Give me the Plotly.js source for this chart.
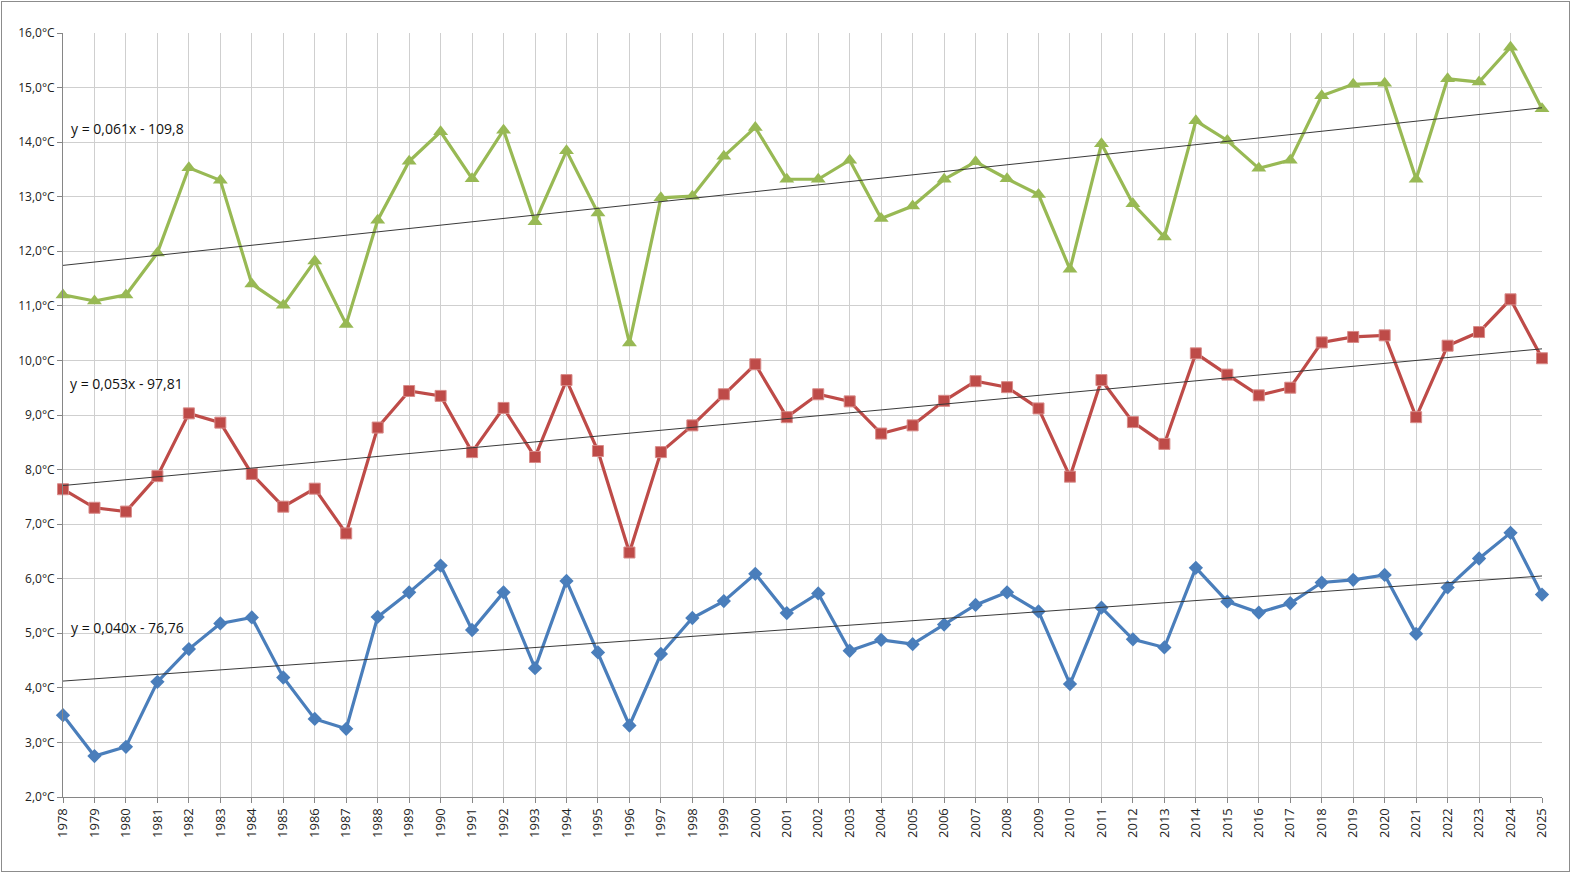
<!DOCTYPE html>
<html>
<head>
<meta charset="utf-8">
<script src="https://cdn.plot.ly/plotly-3.0.1.min.js"></script>
<style>
html,body{margin:0;padding:0;background:#fff;}
#chart{width:1572px;height:873px;}
#frame{position:absolute;left:1px;top:1px;width:1569px;height:871px;box-sizing:border-box;border:1px solid #8c8c8c;pointer-events:none;}
</style>
</head>
<body>
<div id="chart"></div>
<div id="frame"></div>
<script>
const years = [1978,1979,1980,1981,1982,1983,1984,1985,1986,1987,1988,1989,1990,1991,1992,1993,1994,1995,1996,1997,1998,1999,2000,2001,2002,2003,2004,2005,2006,2007,2008,2009,2010,2011,2012,2013,2014,2015,2016,2017,2018,2019,2020,2021,2022,2023,2024,2025];

const greenSeries = [11.20,11.09,11.20,11.97,13.53,13.30,11.40,11.01,11.82,10.66,
  12.57,13.65,14.19,13.33,14.22,12.54,13.84,12.70,10.32,12.98,
  13.01,13.74,14.27,13.32,13.32,13.67,12.60,12.83,13.32,13.64,
  13.33,13.04,11.67,13.97,12.87,12.26,14.39,14.03,13.52,13.67,
  14.85,15.06,15.08,13.32,15.16,15.10,15.74,14.61];

const redSeries = [7.64,7.30,7.23,7.88,9.03,8.86,7.92,7.32,7.65,6.83,
  8.77,9.44,9.35,8.32,9.13,8.23,9.64,8.34,6.48,8.32,
  8.81,9.38,9.93,8.96,9.38,9.25,8.66,8.81,9.26,9.62,
  9.51,9.12,7.87,9.64,8.87,8.47,10.13,9.74,9.36,9.50,
  10.33,10.43,10.46,8.96,10.27,10.52,11.12,10.04];

const blueSeries = [3.50,2.75,2.92,4.11,4.71,5.18,5.29,4.19,3.43,3.25,
  5.30,5.75,6.24,5.06,5.75,4.36,5.96,4.65,3.31,4.62,
  5.28,5.59,6.09,5.37,5.73,4.68,4.88,4.80,5.16,5.52,
  5.75,5.40,4.07,5.47,4.89,4.74,6.20,5.58,5.38,5.55,
  5.93,5.98,6.07,4.99,5.84,6.37,6.84,5.71];

const equations = ["y = 0,061x - 109,8","y = 0,053x - 97,81","y = 0,040x - 76,76"];

const yTicks = [2,3,4,5,6,7,8,9,10,11,12,13,14,15,16];
const yTickText = yTicks.map(v => v.toFixed(1).replace('.', ',') + '°C');

function fit(xs, ys){
  const n = xs.length;
  const mx = xs.reduce((a,b)=>a+b,0)/n, my = ys.reduce((a,b)=>a+b,0)/n;
  let sxy=0,sxx=0;
  for(let i=0;i<n;i++){sxy+=(xs[i]-mx)*(ys[i]-my);sxx+=(xs[i]-mx)*(xs[i]-mx);}
  const b = sxy/sxx, a = my-b*mx;
  const x0 = xs[0], x1 = xs[n-1];
  return {x:[x0,x1], y:[a+b*x0, a+b*x1]};
}

const lineW = 3.2;
const traces = [
  {x:years,y:blueSeries,mode:'lines+markers',line:{color:'#4a7ebb',width:lineW},
   marker:{symbol:'diamond',size:11,color:'#4a7ebb'},cliponaxis:false},
  {x:years,y:redSeries,mode:'lines+markers',line:{color:'#be4b48',width:lineW},
   marker:{symbol:'square',size:11,color:'#be4b48',line:{color:'#d88b89',width:1}},cliponaxis:false},
  {x:years,y:greenSeries,mode:'lines+markers',line:{color:'#98b954',width:lineW},
   marker:{symbol:'triangle-up',size:13,color:'#98b954'},cliponaxis:false}
];
[greenSeries, redSeries, blueSeries].forEach(s => {
  const f = fit(years, s);
  traces.push({x:f.x,y:f.y,mode:'lines',line:{color:'#3a3a3a',width:1},cliponaxis:false,hoverinfo:'skip'});
});

const fam = '"Open Sans", "Liberation Sans", sans-serif';

const layout = {
  width:1572, height:873,
  margin:{l:63, r:30, t:33, b:76, pad:0},
  paper_bgcolor:'#ffffff', plot_bgcolor:'#ffffff',
  showlegend:false,
  font:{family:fam,size:12,color:'#222'},
  xaxis:{
    range:[1978,2025], tickmode:'array', tickvals:years, ticktext:years.map(String),
    tickangle:-90, showgrid:true, gridcolor:'#cfcfcf', gridwidth:1,
    showline:true, linecolor:'#868686', linewidth:1,
    ticks:'outside', ticklen:5, tickcolor:'#868686',
    zeroline:false, automargin:false, tickfont:{family:fam,size:13,color:'#222'}
  },
  yaxis:{
    range:[2,16], tickmode:'array', tickvals:yTicks, ticktext:yTickText,
    showgrid:true, gridcolor:'#cfcfcf', gridwidth:1,
    showline:true, linecolor:'#868686', linewidth:1,
    ticks:'outside', ticklen:5, tickcolor:'#868686',
    zeroline:false, automargin:false, tickfont:{family:fam,size:12,color:'#222'}
  },
  annotations:[
    {x:1978.2,y:14.25,text:equations[0],showarrow:false,xanchor:'left',yanchor:'middle',font:{family:fam,size:14,color:'#111'}},
    {x:1978.15,y:9.57,text:equations[1],showarrow:false,xanchor:'left',yanchor:'middle',font:{family:fam,size:14,color:'#111'}},
    {x:1978.18,y:5.10,text:equations[2],showarrow:false,xanchor:'left',yanchor:'middle',font:{family:fam,size:14,color:'#111'}}
  ]
};

Plotly.newPlot('chart', traces, layout, {staticPlot:true, displayModeBar:false});
</script>
</body>
</html>
